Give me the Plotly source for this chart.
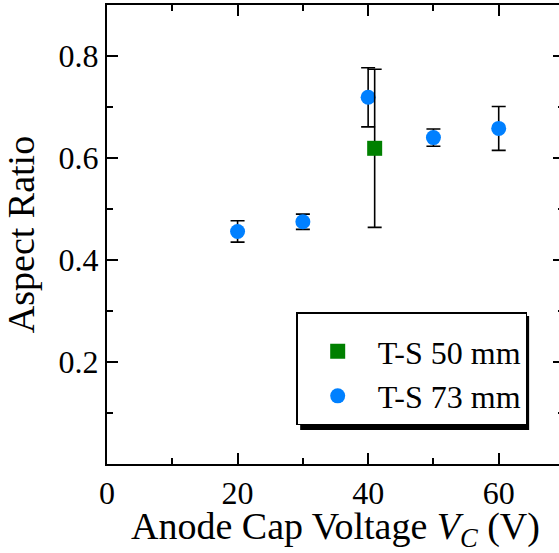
import plotly.graph_objects as go

# Data
x50 = [41]
y50 = [0.619]
e50 = [0.155]

x73 = [20, 30, 40, 50, 60]
y73 = [0.456, 0.475, 0.719, 0.640, 0.658]
e73 = [0.021, 0.015, 0.058, 0.017, 0.043]

names = ["T-S 50 mm", "T-S 73 mm"]
x_ticks = [0, 20, 40, 60]
y_ticks = [0.2, 0.4, 0.6, 0.8]

FONT = "Times New Roman, Liberation Serif, DejaVu Serif, serif"

fig = go.Figure()
fig.add_trace(go.Scatter(
    x=x73, y=y73, mode="markers", name=names[1],
    marker=dict(symbol="circle", size=15, color="#0080FF"),
    error_y=dict(type="data", array=e73, color="black", thickness=1.6, width=7),
    showlegend=False,
))
fig.add_trace(go.Scatter(
    x=x50, y=y50, mode="markers", name=names[0],
    marker=dict(symbol="square", size=15, color="#008000"),
    error_y=dict(type="data", array=e50, color="black", thickness=1.6, width=7),
))
fig.add_trace(go.Scatter(
    x=[None], y=[None], mode="markers", name=names[1],
    marker=dict(symbol="circle", size=15, color="#0080FF"),
))

axis_common = dict(
    showline=True, linecolor="black", linewidth=2, mirror="ticks",
    ticks="inside", ticklen=11, tickwidth=1.5, tickcolor="black",
    showgrid=False, zeroline=False,
    tickfont=dict(family=FONT, size=32, color="black"),
)

fig.update_xaxes(
    range=[0, 70], tickvals=x_ticks,
    minor=dict(dtick=10, ticks="inside", ticklen=6, tickwidth=1.5, tickcolor="black"),
    title=dict(text="Anode Cap Voltage <i>V</i><sub><i>C</i></sub> (V)",
               font=dict(family=FONT, size=38, color="black"), standoff=11),
    **axis_common,
)
fig.update_yaxes(
    range=[0, 0.9], tickvals=y_ticks, ticktext=[f"{v:.1f}" for v in y_ticks],
    minor=dict(dtick=0.1, ticks="inside", ticklen=6, tickwidth=1.5, tickcolor="black"),
    title=dict(text="Aspect Ratio", font=dict(family=FONT, size=38, color="black"), standoff=12),
    **axis_common,
)

# legend shadow
fig.add_shape(type="rect", xref="paper", yref="paper",
              x0=0.4227, x1=0.9237, y0=0.0741, y1=0.3224,
              fillcolor="black", line=dict(width=0), layer="above")

fig.update_layout(
    width=566, height=553,
    margin=dict(l=107, r=0, t=5, b=89),
    plot_bgcolor="white", paper_bgcolor="white",
    font=dict(family=FONT, color="black"),
    legend=dict(
        x=0.414, y=0.331, xanchor="left", yanchor="top",
        bgcolor="white", bordercolor="black", borderwidth=1.5,
        font=dict(family=FONT, size=32, color="black"),
        itemwidth=70,
        title=dict(text="&nbsp;", font=dict(family=FONT, size=8)),
    ),
)

fig.write_html("out.html", config={"displayModeBar": False},
               post_script="document.body.style.margin='0px';")
